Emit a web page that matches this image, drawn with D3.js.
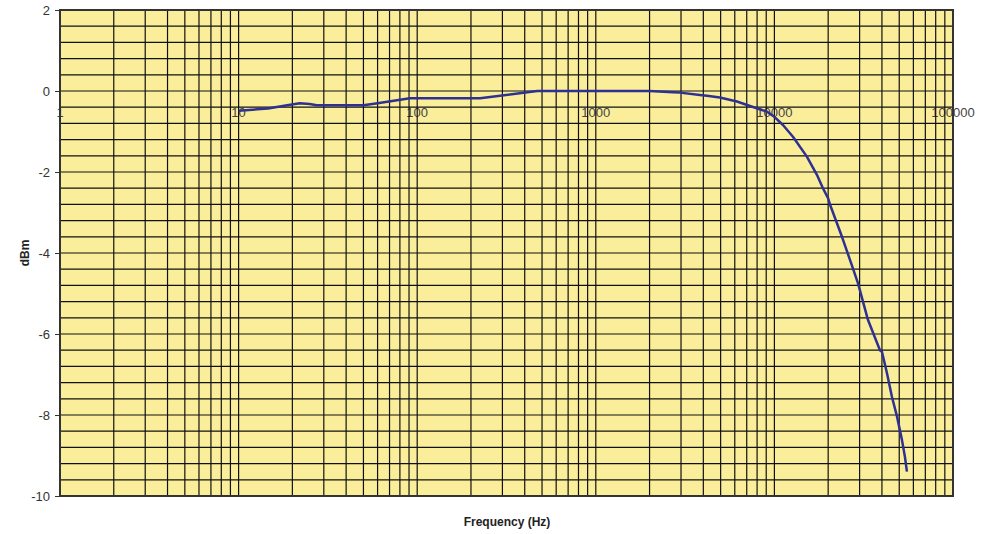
<!DOCTYPE html>
<html><head><meta charset="utf-8">
<script src="https://cdn.jsdelivr.net/npm/d3@7"></script>
<style>body{margin:0;background:#fff}svg{display:block}</style>
</head><body>
<svg id="c" width="1000" height="534"></svg>
<script>
const freqs = [10, 14.6, 18.7, 22, 25, 27.4, 50, 60, 91, 225, 470, 2000, 2700, 2960, 3830, 4190, 4950, 6170, 7300, 9100, 10070, 11170, 12700, 15200, 17300, 18700, 20000, 20500, 23900, 26500, 29400, 33400, 39000, 40000, 42700, 45500, 48600, 51800, 53800, 55200];
const dbm = [-0.49, -0.43, -0.35, -0.30, -0.32, -0.35, -0.35, -0.30, -0.18, -0.18, 0, 0, -0.03, -0.04, -0.10, -0.12, -0.16, -0.26, -0.37, -0.51, -0.65, -0.84, -1.13, -1.62, -2.07, -2.40, -2.65, -2.81, -3.60, -4.17, -4.75, -5.65, -6.40, -6.44, -6.97, -7.55, -8.04, -8.62, -9.03, -9.40];
const xTickLabels = ["1", "10", "100", "1000", "10000", "100000"];
const yTickLabels = ["-10", "-8", "-6", "-4", "-2", "0", "2"];
const xTitle = "Frequency (Hz)";
const yTitle = "dBm";

const L = 60, R = 953, T = 10, B = 496;
const svg = d3.select("#c");
const x = d3.scaleLog().domain([1, 100000]).range([L, R]);
const y = d3.scaleLinear().domain([-10, 2]).range([B, T]);

svg.append("rect").attr("x", L).attr("y", T).attr("width", R - L).attr("height", B - T).attr("fill", "#FBEE9B");

// x tick labels (along the y=0 line)
svg.append("g").selectAll("text").data(xTickLabels).join("text")
  .attr("x", d => x(+d)).attr("y", y(0) + 26)
  .attr("text-anchor", "middle")
  .attr("font-family", "Liberation Sans, Arial, sans-serif").attr("font-size", 13)
  .attr("fill", "#444").text(d => d);

// vertical grid
const vlines = [];
for (let e = 0; e < 5; e++) for (let m = 1; m <= 9; m++) vlines.push(m * Math.pow(10, e));
vlines.push(100000);
svg.append("g").selectAll("line").data(vlines).join("line")
  .attr("x1", d => x(d)).attr("x2", d => x(d)).attr("y1", T).attr("y2", B)
  .attr("stroke", "#111").attr("stroke-width", 1.2);

// horizontal grid every 0.4
const hlines = d3.range(0, 31).map(i => -10 + i * 0.4);
svg.append("g").selectAll("line").data(hlines).join("line")
  .attr("x1", L).attr("x2", R).attr("y1", d => y(d)).attr("y2", d => y(d))
  .attr("stroke", "#111").attr("stroke-width", 1.2);

// y axis
const yAxis = d3.axisLeft(y).tickValues(yTickLabels.map(Number)).tickFormat(d => String(d)).tickSize(5).tickPadding(5);
const ga = svg.append("g").attr("transform", `translate(${L},0)`).call(yAxis);
ga.select(".domain").remove();
ga.selectAll("line").attr("stroke", "#333");
ga.selectAll("text").attr("font-family", "Liberation Sans, Arial, sans-serif").attr("font-size", 13).attr("fill", "#333");

// border
svg.append("rect").attr("x", L).attr("y", T).attr("width", R - L).attr("height", B - T)
  .attr("fill", "none").attr("stroke", "#333").attr("stroke-width", 2);

// data line
const data = freqs.map((f, i) => [f, dbm[i]]);
svg.append("path").datum(data)
  .attr("d", d3.line().x(d => x(d[0])).y(d => y(d[1])))
  .attr("fill", "none").attr("stroke", "#2E3192").attr("stroke-width", 2.5).attr("stroke-linejoin", "round");

svg.append("text").attr("x", 507).attr("y", 526).attr("text-anchor", "middle")
  .attr("font-family", "Liberation Sans, Arial, sans-serif").attr("font-size", 12).attr("font-weight", "bold")
  .attr("fill", "#222").text(xTitle);
svg.append("text").attr("transform", "translate(29,253) rotate(-90)").attr("text-anchor", "middle")
  .attr("font-family", "Liberation Sans, Arial, sans-serif").attr("font-size", 12).attr("font-weight", "bold")
  .attr("fill", "#222").text(yTitle);
</script>
</body></html>
